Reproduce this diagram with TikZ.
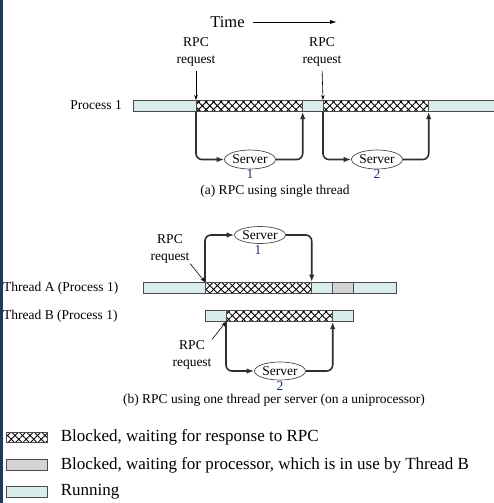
\documentclass[tikz,border=0pt]{standalone}
\usepackage{fontspec}
\setmainfont{Liberation Serif}
\usetikzlibrary{arrows.meta,shapes.geometric,patterns.meta}
\definecolor{runfill}{HTML}{DAEDED}
\definecolor{waitfill}{HTML}{D3D3D3}
\definecolor{segedge}{HTML}{4A4A4A}
\definecolor{callcol}{HTML}{2E2E2E}
\definecolor{edgeblue}{HTML}{1D3B5C}
\definecolor{numblue}{HTML}{1A3070}
\tikzset{
  seg/.style={draw=segedge,line width=0.7pt,minimum height=11pt,inner sep=0pt,anchor=north west},
  runseg/.style={seg,fill=runfill},
  waitseg/.style={seg,fill=waitfill},
  blockseg/.style={seg,fill=white,
    postaction={pattern={Lines[angle=45,distance=5.3pt,line width=0.9pt]}},
    postaction={pattern={Lines[angle=-45,distance=5.3pt,line width=0.9pt]}},
    postaction={draw=segedge,line width=0.7pt}},
  server/.style={ellipse,draw=segedge,line width=0.7pt,minimum width=51pt,minimum height=19pt,
    inner sep=0pt,font=\fontsize{13.5}{16}\selectfont},
  num/.style={inner sep=0pt,text=numblue,font=\fontsize{13.5}{16}\selectfont},
  call/.style={-{Latex[length=7.5pt,width=5.5pt]},line width=1.6pt,draw=callcol,rounded corners=6pt},
  note/.style={-{Stealth[length=5pt,width=3.5pt]},line width=0.6pt},
  lbl/.style={inner sep=0pt,align=center,font=\fontsize{13.5}{17}\selectfont},
  legend/.style={inner sep=0pt,anchor=west,font=\fontsize{17}{20}\selectfont}
}
\begin{document}
\begin{tikzpicture}[x=1pt,y=-1pt]
  \useasboundingbox (0,0) rectangle (494,503);
  \fill[edgeblue] (0,0) rectangle (2.5,503);

  % time axis
  \node[inner sep=0pt,font=\fontsize{16.5}{18}\selectfont] (time) at (227.5,22) {Time};
  \coordinate (tend) at (337,22);
  \draw[-{Latex[length=7pt,width=4pt]},line width=0.9pt] ([xshift=8pt]time.east) -- (tend);

  % (a) single thread
  \node[lbl,anchor=east] (proc) at (122,105.5) {Process 1};
  \foreach \n/\x/\w/\s in {pa/133/63pt/runseg,pb/196/106pt/blockseg,pc/302/21pt/runseg,
                           pd/323/105pt/blockseg,pe/428/70pt/runseg}
    \node[\s,minimum width=\w] (\n) at (\x,100) {};

  \node[lbl] (rqa1) at (196,52) {RPC\\request};
  \node[lbl] (rqa2) at (322,52) {RPC\\request};
  \node[server] (srva1) at (250,159.5) {Server};
  \node[num] (na1) at (250,174) {1};
  \node[server] (srva2) at (377,159.5) {Server};
  \node[num] (na2) at (377,174) {2};

  \draw[note,shorten <=4pt] (rqa1.south) -- (pb.north west);
  \draw[call] (pb.south west) |- (srva1.west);
  \draw[call] (srva1.east) -| (pb.south east);
  \draw[note,shorten <=4pt] (rqa2.south) -- (pd.north west);
  \draw[call] (pd.south west) |- (srva2.west);
  \draw[call] (srva2.east) -| (pd.south east);

  \node[lbl] (capa) at (275,191) {(a) RPC using single thread};

  % (b) one thread per server
  \node[lbl,anchor=west] (thra) at (3,288) {Thread A (Process 1)};
  \node[lbl,anchor=west] (thrb) at (3,316) {Thread B (Process 1)};
  \foreach \n/\x/\w/\s in {ta/143/62pt/runseg,tb/205/106pt/blockseg,tc/311/21pt/runseg,
                           td/332/21pt/waitseg,te/353/43pt/runseg}
    \node[\s,minimum width=\w] (\n) at (\x,282) {};
  \foreach \n/\x/\w/\s in {ua/205/21pt/runseg,ub/226/106pt/blockseg,uc/332/21pt/runseg}
    \node[\s,minimum width=\w] (\n) at (\x,310) {};

  \node[lbl] (rqb1) at (170,248.5) {RPC\\request};
  \node[lbl] (rqb2) at (192,354.5) {RPC\\request};
  \node[server,minimum height=17pt] (srvb1) at (260,235) {Server};
  \node[num] (nb1) at (258,250) {1};
  \node[server,minimum height=18pt] (srvb2) at (280,371) {Server};
  \node[num] (nb2) at (280,386) {2};

  \draw[note,shorten <=1pt] (rqb1.south east) -- (tb.north west);
  \draw[call] (tb.north west) |- (srvb1.west);
  \draw[call] (srvb1.east) -| (tb.north east);
  \draw[note,shorten <=1pt] (rqb2.north east) -- (ub.south west);
  \draw[call] (ub.south west) |- (srvb2.west);
  \draw[call] (srvb2.east) -| (ub.south east);

  \node[lbl] (capb) at (274,400) {(b) RPC using one thread per server (on a uniprocessor)};

  % legend
  \node[blockseg,minimum width=41pt,minimum height=10pt] (kb) at (6,432) {};
  \node[waitseg,minimum width=41pt] (kw) at (6,459) {};
  \node[runseg,minimum width=41pt] (kr) at (6,486) {};
  \node[legend] (lb) at ([xshift=13pt]kb.east) {Blocked, waiting for response to RPC};
  \node[legend] (lw) at ([xshift=13pt]kw.east) {Blocked, waiting for processor, which is in use by Thread B};
  \node[legend] (lr) at ([xshift=13pt]kr.east) {Running};
\end{tikzpicture}
\end{document}
